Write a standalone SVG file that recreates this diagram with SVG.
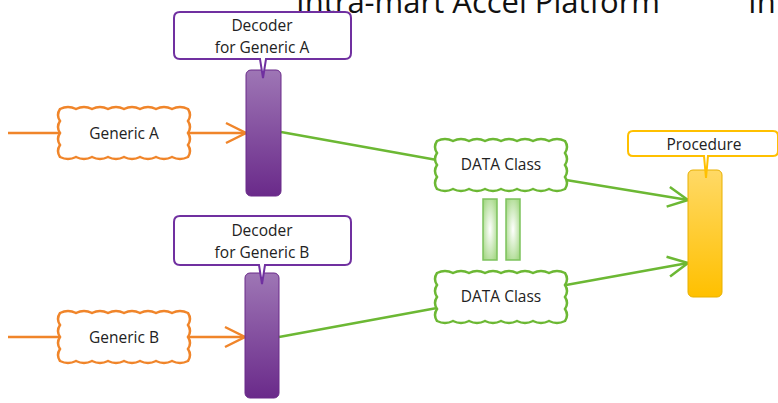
<svg xmlns="http://www.w3.org/2000/svg" width="778" height="403" viewBox="0 0 778 403">
<style>
text{font-family:"Open Sans","Noto Sans",sans-serif;fill:#222;}
.lbl{font-size:15.5px;text-anchor:middle;}
.title{font-size:31px;fill:#111;}
.orange{stroke:#f0852a;stroke-width:2.5;fill:none;}
.green{stroke:#6cb834;stroke-width:2.5;fill:none;}
.cloudO{fill:#fff;stroke:#f0852a;stroke-width:2.5;}
.cloudG{fill:#fff;stroke:#6cb834;stroke-width:2.5;}
.callP{fill:#fff;stroke:#7030a0;stroke-width:2;}
.callY{fill:#fff;stroke:#ffc000;stroke-width:2;}
</style>
<defs>
<linearGradient id="gP" x1="0" y1="0" x2="0" y2="1"><stop offset="0" stop-color="#9e76b5"/><stop offset="1" stop-color="#6a2a8a"/></linearGradient>
<linearGradient id="gY" x1="0" y1="0" x2="0" y2="1"><stop offset="0" stop-color="#ffd966"/><stop offset="1" stop-color="#ffc000"/></linearGradient>
<radialGradient id="gG" cx="0.5" cy="0.5" r="0.6"><stop offset="0" stop-color="#ffffff"/><stop offset="1" stop-color="#a8d98a"/></radialGradient>
<path id="cloud" d="M0,0 q8,-4 16,0 q8,-4 16,0 q8,-4 16,0 q8,-4 16,0 q8,-4 16,0 q8,-4 16,0 q8,-4 16,0 q8,-4 16,0 q4,6 0,12 q4,6 0,12 q4,6 0,12 q4,6 0,12 q-8,4 -16,0 q-8,4 -16,0 q-8,4 -16,0 q-8,4 -16,0 q-8,4 -16,0 q-8,4 -16,0 q-8,4 -16,0 q-8,4 -16,0 q-4,-6 0,-12 q-4,-6 0,-12 q-4,-6 0,-12 q-4,-6 0,-12 Z"/>
<marker id="aO" markerUnits="userSpaceOnUse" markerWidth="26" markerHeight="26" refX="22" refY="12" orient="auto"><path d="M2,2 L22,12 L2,22" fill="none" stroke="#f0852a" stroke-width="2.5"/></marker>
<marker id="aG" markerUnits="userSpaceOnUse" markerWidth="26" markerHeight="26" refX="22" refY="12" orient="auto"><path d="M2,2 L22,12 L2,22" fill="none" stroke="#6cb834" stroke-width="2.5"/></marker>
</defs>
<rect width="778" height="403" fill="#fff"/>
<text class="title" x="296" y="13">Intra-mart Accel Platform</text>
<text class="title" x="748" y="13">In</text>
<g id="connectors">
<line class="orange" x1="8" y1="133" x2="60" y2="133"/>
<line class="orange" x1="188" y1="133" x2="246" y2="133" marker-end="url(#aO)"/>
<line class="orange" x1="8" y1="337" x2="60" y2="337"/>
<line class="orange" x1="188" y1="337" x2="245" y2="337" marker-end="url(#aO)"/>
<line class="green" x1="281" y1="132" x2="437" y2="160"/>
<line class="green" x1="566" y1="180" x2="688" y2="200" marker-end="url(#aG)"/>
<line class="green" x1="279" y1="337" x2="437" y2="308"/>
<line class="green" x1="566" y1="285" x2="688" y2="263" marker-end="url(#aG)"/>
</g>
<g id="genericA"><use href="#cloud" class="cloudO" transform="translate(60,109)"/><text class="lbl" x="124" y="139">Generic A</text></g>
<g id="genericB"><use href="#cloud" class="cloudO" transform="translate(60,313)"/><text class="lbl" x="124" y="343">Generic B</text></g>
<g id="dataA"><use href="#cloud" class="cloudG" transform="translate(437,141)"/><text class="lbl" x="501" y="170">DATA Class</text></g>
<g id="dataB"><use href="#cloud" class="cloudG" transform="translate(437,273)"/><text class="lbl" x="501" y="302">DATA Class</text></g>
<g id="equals">
<rect x="483" y="199" width="14" height="61" fill="url(#gG)" stroke="#7cc25c" stroke-width="1.5"/>
<rect x="506" y="199" width="14" height="61" fill="url(#gG)" stroke="#7cc25c" stroke-width="1.5"/>
</g>
<g id="decoderA">
<rect x="246" y="70" width="35" height="126" rx="5" fill="url(#gP)" stroke="#6a2a8a" stroke-width="1"/>
<path class="callP" d="M180,12 H345 Q351,12 351,18 V53 Q351,59 345,59 H266 L263,78 L260,59 H180 Q174,59 174,53 V18 Q174,12 180,12 Z"/>
<text class="lbl" x="262" y="31">Decoder</text>
<text class="lbl" x="262" y="53">for Generic A</text>
</g>
<g id="decoderB">
<rect x="245" y="273" width="34" height="125" rx="5" fill="url(#gP)" stroke="#6a2a8a" stroke-width="1"/>
<path class="callP" d="M180,216 H345 Q351,216 351,222 V259 Q351,265 345,265 H265 L262,284 L259,265 H180 Q174,265 174,259 V222 Q174,216 180,216 Z"/>
<text class="lbl" x="262" y="236">Decoder</text>
<text class="lbl" x="262" y="258">for Generic B</text>
</g>
<g id="procedure">
<rect x="688" y="170" width="34" height="127" rx="5" fill="url(#gY)" stroke="#e8b000" stroke-width="1"/>
<path class="callY" d="M633,131 H773 Q778,131 778,136 V151 Q778,156 773,156 H708 L706,178 L704,156 H633 Q628,156 628,151 V136 Q628,131 633,131 Z"/>
<text class="lbl" x="704" y="150">Procedure</text>
</g>
</svg>
